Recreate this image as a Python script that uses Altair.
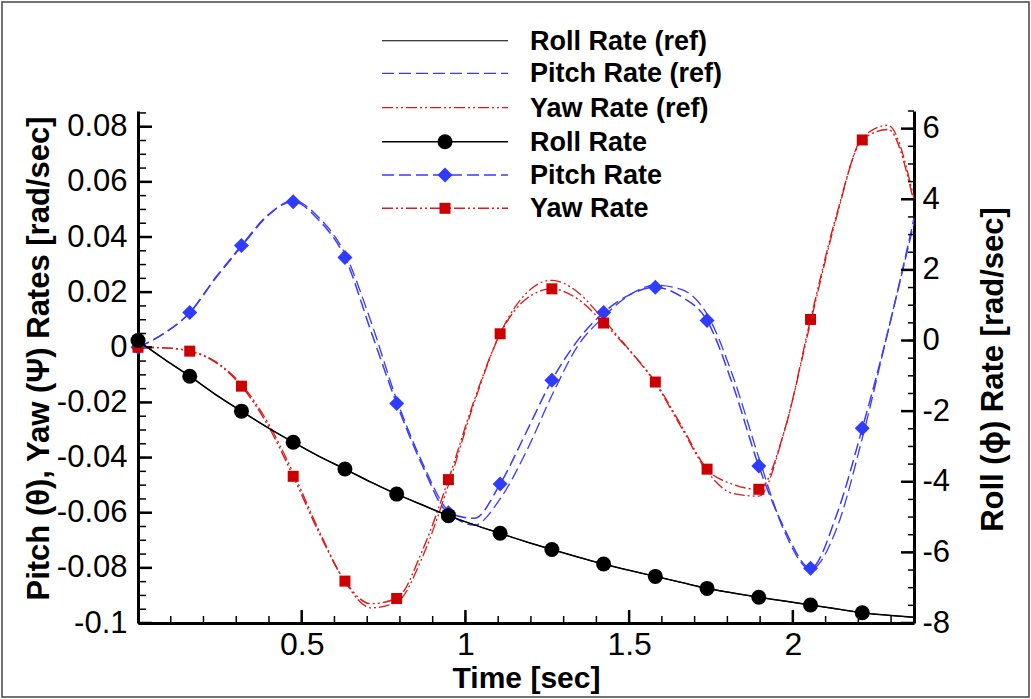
import altair as alt
import pandas as pd

# ---------------------------------------------------------------- data
# sample times [sec]; symbols are drawn on every other sample
time_s = [0.000, 0.079, 0.158, 0.237, 0.316, 0.395, 0.474, 0.553, 0.632, 0.711,
          0.790, 0.869, 0.948, 1.027, 1.106, 1.185, 1.264, 1.343, 1.422, 1.501,
          1.580, 1.659, 1.738, 1.817, 1.896, 1.975, 2.054, 2.133, 2.212, 2.291,
          2.370]

# roll rate [rad/sec] (right axis)
roll_ref = [0.00, -0.52, -1.01, -1.53, -2.00, -2.46, -2.88, -3.28, -3.64, -4.01,
            -4.35, -4.66, -4.96, -5.22, -5.46, -5.70, -5.92, -6.13, -6.33, -6.51,
            -6.68, -6.85, -7.02, -7.15, -7.27, -7.38, -7.49, -7.60, -7.71, -7.78,
            -7.84]
roll = [0.00, -0.52, -1.01, -1.53, -2.00, -2.46, -2.88, -3.28, -3.64, -4.01,
        -4.35, -4.66, -4.96, -5.22, -5.46, -5.70, -5.92, -6.13, -6.33, -6.51,
        -6.68, -6.85, -7.02, -7.15, -7.27, -7.38, -7.49, -7.60, -7.71, -7.78,
        -7.84]

# pitch rate [rad/sec] (left axis)
pitch_ref = [0.0000, 0.0050, 0.0125, 0.0250, 0.0365, 0.0475, 0.0532, 0.0470,
             0.0340, 0.0095, -0.0190, -0.0420, -0.0595, -0.0645, -0.0550,
             -0.0380, -0.0175, 0.0005, 0.0110, 0.0190, 0.0225, 0.0210, 0.0120,
             -0.0105, -0.0400, -0.0670, -0.0805, -0.0660, -0.0330, 0.0060,
             0.0450]
pitch = [0.0000, 0.0050, 0.0126, 0.0253, 0.0369, 0.0478, 0.0528, 0.0460,
         0.0326, 0.0060, -0.0204, -0.0430, -0.0600, -0.0620, -0.0496,
         -0.0310, -0.0120, 0.0025, 0.0126, 0.0190, 0.0218, 0.0184, 0.0097,
         -0.0138, -0.0431, -0.0660, -0.0801, -0.0610, -0.0294, 0.0060,
         0.0467]

# yaw rate [rad/sec] (left axis)
yaw_ref = [0.0000, -0.0002, -0.0013, -0.0052, -0.0135, -0.0270, -0.0455,
           -0.0665, -0.0850, -0.0945, -0.0925, -0.0760, -0.0500, -0.0200,
           0.0050, 0.0195, 0.0243, 0.0200, 0.0100, -0.0010, -0.0130, -0.0290,
           -0.0450, -0.0530, -0.0540, -0.0300, 0.0090, 0.0470, 0.0760, 0.0805,
           0.0540]
yaw = [0.0000, -0.0002, -0.0014, -0.0055, -0.0141, -0.0280, -0.0468, -0.0673,
       -0.0848, -0.0930, -0.0911, -0.0736, -0.0480, -0.0192, 0.0049, 0.0175,
       0.0212, 0.0175, 0.0088, -0.0011, -0.0126, -0.0283, -0.0442, -0.0497,
       -0.0515, -0.0300, 0.0101, 0.0478, 0.0752, 0.0790, 0.0525]

# axis ticks
x_major = [0.5, 1.0, 1.5, 2.0]
x_minor = [round(0.1 * i, 1) for i in range(1, 24)]
left_major = [-0.1, -0.08, -0.06, -0.04, -0.02, 0.0, 0.02, 0.04, 0.06, 0.08]
left_minor = [round(-0.1 + 0.005 * i, 3) for i in range(0, 38)]
right_major = [-8, -6, -4, -2, 0, 2, 4, 6]
right_minor = [-8 + 0.5 * i for i in range(0, 30)]

legend_labels = ["Roll Rate (ref)", "Pitch Rate (ref)", "Yaw Rate (ref)",
                 "Roll Rate", "Pitch Rate", "Yaw Rate"]

# ---------------------------------------------------------------- style
W, H = 776, 512
FONT = "Liberation Sans"
BLACK = "#000000"
BLUE_LINE = "#3a3aff"
BLUE_MARK = "#2f3cff"
RED_LINE = "#dd1a1a"
RED_MARK = "#cc0000"
DASH = [12, 5]
DASH_DOT_DOT = [11, 3, 2, 3, 2, 3]


def frame(values):
    return pd.DataFrame({"t": time_s, "value": values})


x_scale = alt.Scale(domain=[0, 2.37], nice=False, zero=False)
left_scale = alt.Scale(domain=[-0.1, 0.0857], nice=False, zero=False)
right_scale = alt.Scale(domain=[-8, 6.5], nice=False, zero=False)

X = alt.X(
    "t:Q", scale=x_scale, title="Time [sec]",
    axis=alt.Axis(
        values=x_major, labelExpr="'' + datum.value", ticks=False, grid=False,
        domainColor=BLACK, domainWidth=3, labelFont=FONT, labelFontSize=32,
        labelColor=BLACK, labelPadding=6, labelFlush=False, labelOverlap=False,
        titleFont=FONT, titleFontSize=30, titleFontWeight="bold",
        titleColor=BLACK, titleX=W / 2, titleY=55, titleBaseline="middle",
        titleAlign="center",
    ),
)

Y_LEFT = alt.Y(
    "value:Q", scale=left_scale,
    title="Pitch (\u03b8), Yaw (\u03a8) Rates [rad/sec]",
    axis=alt.Axis(
        orient="left", values=left_major, labelExpr="'' + datum.value",
        ticks=False, grid=False, domainColor=BLACK, domainWidth=3,
        labelFont=FONT, labelFontSize=31, labelColor=BLACK, labelPadding=11,
        labelFlush=False, labelOverlap=False, titleFont=FONT, titleFontSize=31,
        titleFontWeight="bold", titleColor=BLACK, titleAngle=270,
        titleX=-99, titleY=H / 2 - 9, titleAlign="center", titleBaseline="middle",
    ),
)

Y_RIGHT = alt.Y(
    "value:Q", scale=right_scale, title="Roll (\u03d5) Rate [rad/sec]",
    axis=alt.Axis(
        orient="right", values=right_major, labelExpr="'' + datum.value",
        ticks=False, grid=False, domainColor=BLACK, domainWidth=3,
        labelFont=FONT, labelFontSize=31, labelColor=BLACK, labelPadding=8,
        labelFlush=False, labelOverlap=False, titleFont=FONT, titleFontSize=31,
        titleFontWeight="bold", titleColor=BLACK, titleAngle=270,
        titleX=79, titleY=258, titleAlign="center", titleBaseline="middle",
    ),
)


def curve(values, y, color, width, dash=None):
    kw = dict(color=color, strokeWidth=width, interpolate="monotone")
    if dash:
        kw["strokeDash"] = dash
    return alt.Chart(frame(values)).mark_line(**kw).encode(x=X, y=y)


def symbols(values, y, shape, color, size):
    data = frame(values).iloc[::2].iloc[:-1]
    return alt.Chart(data).mark_point(
        shape=shape, filled=True, color=color, size=size, opacity=1
    ).encode(x=X, y=y)


def ticks_y(values, y, x0, x1, width):
    return alt.Chart(pd.DataFrame({"value": values})).mark_rule(
        color=BLACK, strokeWidth=width
    ).encode(y=y, x=alt.value(x0), x2=alt.value(x1))


def ticks_x(values, length, width):
    return alt.Chart(pd.DataFrame({"t": values})).mark_rule(
        color=BLACK, strokeWidth=width
    ).encode(x=X, y=alt.value(H), y2=alt.value(H - length))


left_group = alt.layer(
    ticks_y(left_minor, Y_LEFT, 0, 8, 1.5),
    ticks_y(left_major, Y_LEFT, 0, 14, 2.5),
    ticks_x(x_minor, 7, 1.5),
    ticks_x(x_major, 13, 2.5),
    curve(pitch_ref, Y_LEFT, BLUE_LINE, 1.3, DASH),
    curve(yaw_ref, Y_LEFT, RED_LINE, 1.3, DASH_DOT_DOT),
    curve(pitch, Y_LEFT, BLUE_LINE, 1.5, DASH),
    curve(yaw, Y_LEFT, RED_LINE, 1.4, DASH_DOT_DOT),
    symbols(pitch, Y_LEFT, "diamond", BLUE_MARK, 225),
    symbols(yaw, Y_LEFT, "square", RED_MARK, 121),
)

right_group = alt.layer(
    ticks_y(right_minor, Y_RIGHT, W, W - 6, 1.5),
    ticks_y(right_major, Y_RIGHT, W, W - 13, 2.5),
    curve(roll_ref, Y_RIGHT, BLACK, 1.1),
    curve(roll, Y_RIGHT, BLACK, 1.5),
    symbols(roll, Y_RIGHT, "circle", BLACK, 225),
)

# ---------------------------------------------------------------- legend
one = pd.DataFrame({"k": [0]})
row_y = [-70.3, -37.7, -3.3, 30.7, 64.0, 97.3]
row_style = [
    (BLACK, 1.1, None, None, None, 0),
    (BLUE_LINE, 1.3, DASH, None, None, 0),
    (RED_LINE, 1.3, DASH_DOT_DOT, None, None, 0),
    (BLACK, 1.5, None, "circle", BLACK, 225),
    (BLUE_LINE, 1.5, DASH, "diamond", BLUE_MARK, 225),
    (RED_LINE, 1.4, DASH_DOT_DOT, "square", RED_MARK, 121),
]
legend_layers = []
for label, yy, (col, sw, dash, shape, mcol, msize) in zip(legend_labels, row_y, row_style):
    kw = dict(color=col, strokeWidth=sw)
    if dash:
        kw["strokeDash"] = dash
    legend_layers.append(
        alt.Chart(one).mark_rule(**kw).encode(
            x=alt.value(244), x2=alt.value(370), y=alt.value(yy))
    )
    if shape:
        legend_layers.append(
            alt.Chart(one).mark_point(shape=shape, filled=True, color=mcol,
                                      size=msize, opacity=1).encode(
                x=alt.value(307), y=alt.value(yy))
        )
    legend_layers.append(
        alt.Chart(one).mark_text(
            text=label, align="left", baseline="alphabetic", font=FONT,
            fontSize=27, fontWeight="bold", color=BLACK).encode(
            x=alt.value(392), y=alt.value(yy + 9))
    )

border = alt.Chart(one).mark_rect(
    fill=None, stroke="#444444", strokeWidth=1.5).encode(
    x=alt.value(-136), x2=alt.value(891), y=alt.value(-109), y2=alt.value(586))

chart = alt.layer(left_group, right_group, *legend_layers, border).resolve_scale(
    y="independent"
).properties(
    width=W, height=H, autosize="none",
    padding={"left": 138, "top": 111, "right": 117, "bottom": 76},
    background="white",
).configure_view(stroke=None)

chart.save("out.html", embed_options={"renderer": "svg", "actions": False})
